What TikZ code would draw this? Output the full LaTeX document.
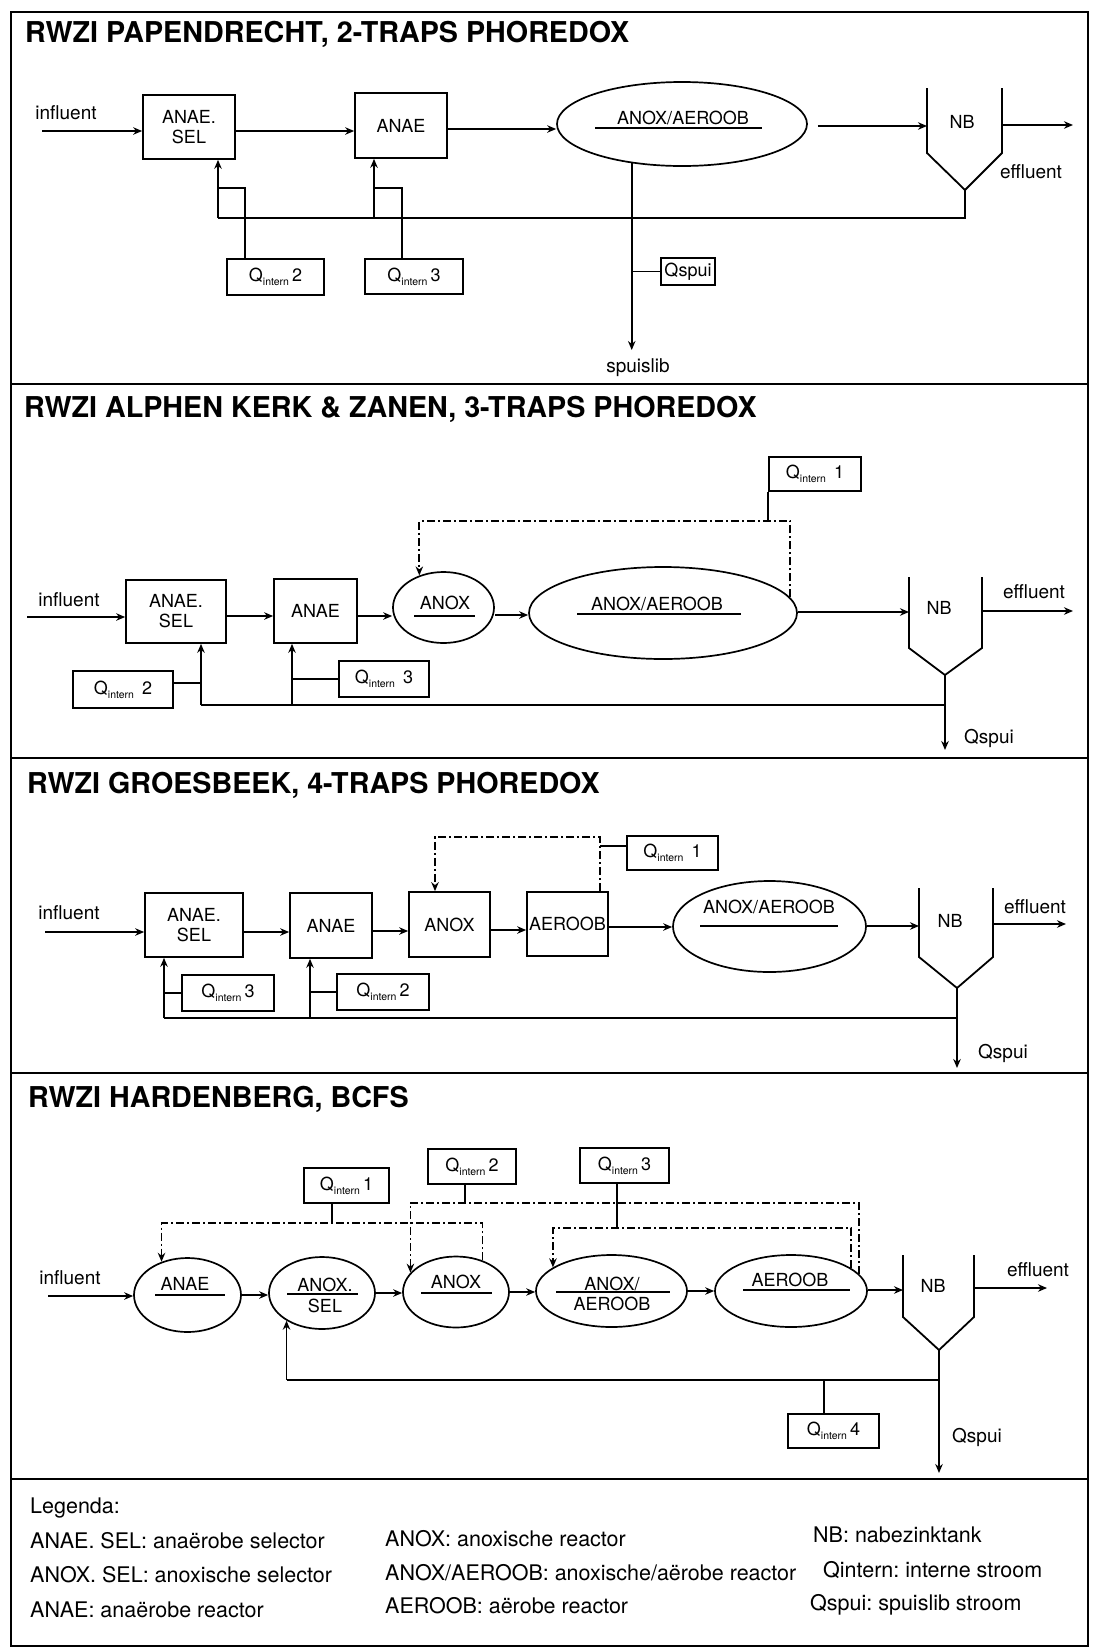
\documentclass[tikz,border=0pt]{standalone}
\usepackage{fontspec}
\setmainfont{TeX Gyre Heros}
\usetikzlibrary{shapes.geometric,arrows.meta}
\frenchspacing

\newcommand\lblfont{\fontsize{18}{20}\selectfont}
\newcommand\flowfont{\fontsize{19}{22}\selectfont}
\newcommand\legfont{\fontsize{21.5}{26}\selectfont}
\newcommand\ttlfont{\fontsize{28.7}{32}\selectfont\bfseries}
\newcommand\Qi[1]{Q\raisebox{-0.45ex}{\fontsize{10.5}{12}\selectfont intern}\,#1}

\begin{document}
\begin{tikzpicture}[x=1pt,y=-1pt,
 ln/.style={line width=1.8pt},
 arr/.style={ln,-{Stealth[length=9pt,width=7.5pt]}},
 dd/.style={line width=1.8pt,dash pattern=on 8pt off 3pt on 2pt off 3pt},
 ddarr/.style={dd,-{Stealth[length=9pt,width=7.5pt]}},
 box/.style={draw,line width=1.7pt,rectangle,inner sep=0pt,align=center,font=\lblfont},
 qbox/.style={draw,line width=1.7pt,rectangle,inner sep=0pt,font=\lblfont},
 ell/.style={draw,line width=1.7pt,ellipse,inner sep=0pt},
 lbl/.style={inner sep=0pt,font=\lblfont,align=center},
 flow/.style={inner sep=0pt,font=\flowfont},
 ttl/.style={inner sep=0pt,font=\ttlfont,anchor=base west},
 leg/.style={inner sep=0pt,font=\legfont,anchor=base west},
 ul/.style={line width=1.7pt},
 frame/.style={line width=2.4pt},
 nb/.style={line width=1.8pt}
]
\useasboundingbox (0,0) rectangle (1096,1650);
\fill[white] (0,0) rectangle (1096,1650);

% frame and dividers
\draw[frame] (11,12) rectangle (1088,1646);
\draw[frame] (11,384) -- (1088,384);
\draw[frame] (11,758) -- (1088,758);
\draw[frame] (11,1073) -- (1088,1073);
\draw[frame] (11,1479) -- (1088,1479);

%================ Section 1 ================
\node[ttl] (T1) at (25,42) {RWZI PAPENDRECHT, 2-TRAPS PHOREDOX};
\node[flow] (in1) at (66,113) {influent};
\coordinate (s1) at (42,131);
\node[box,minimum width=92pt,minimum height=64pt] (A1) at (189,127) {ANAE.\\SEL};
\node[box,minimum width=92pt,minimum height=65pt] (A2) at (401,125.5) {ANAE};
\node[ell,minimum width=250pt,minimum height=84pt] (A3) at (682,124) {};
\node[lbl] (A3t) at (683,118) {ANOX/AEROOB};
\draw[ul] (595,128) -- (762,128);
\draw[nb] (927,88) -- (927,153) -- (965,190) -- (1002,153) -- (1002,88);
\node[lbl] (A4) at (962,122) {NB};
\coordinate (A4in) at (927,126);
\coordinate (A4out) at (1002,125);
\coordinate (A4tip) at (965,190);
\coordinate (e1) at (1073,125);
\node[flow] (ef1) at (1031,172) {effluent};

\draw[arr] (s1) -- (A1.west |- s1);
\draw[arr] (A1.east |- 0,131) -- (A2.west |- 0,131);
\draw[arr] (A2.east |- 0,129) -- (A3.west |- 0,129);
\draw[arr,shorten <=10pt] (A3.east |- A4in) -- (A4in);
\draw[arr] (A4out) -- (e1);

\coordinate (j1) at (218,218);
\coordinate (j2) at (374,218);
\draw[ln] (A4tip) -- (965,218) -- (j1);
\draw[arr] (j1) -- (j1 |- A1.south);
\draw[arr] (j2) -- (j2 |- A2.south);
\node[qbox,minimum width=97pt,minimum height=36pt] (Q12) at (275.5,277) {\Qi{2}};
\draw[ln] (Q12.north -| 245,0) -- (245,188) -- (218,188);
\node[qbox,minimum width=98pt,minimum height=35pt] (Q13) at (414,276.5) {\Qi{3}};
\draw[ln] (Q13.north -| 402,0) -- (402,188) -- (374,188);

\coordinate (w1) at (633,350);
\draw[arr] (A3.218) -- (A3.218 |- w1);
\node[qbox,minimum width=54pt,minimum height=27pt] (QS1) at (688,271.5) {Qspui};
\draw[ln] (QS1.west) -- (QS1.west -| w1);
\node[flow] (sp1) at (638,368) {spuislib};

%================ Section 2 ================
\node[ttl] (T2) at (24,417) {RWZI ALPHEN KERK \& ZANEN, 3-TRAPS PHOREDOX};
\node[flow] (in2) at (69,600) {influent};
\coordinate (s2) at (27,617);
\node[box,minimum width=100pt,minimum height=63pt] (B1) at (176,611.5) {ANAE.\\SEL};
\node[box,minimum width=83pt,minimum height=64pt] (B2) at (315.5,611) {ANAE};
\node[ell,minimum width=101pt,minimum height=71pt] (B3) at (443.5,607.5) {};
\node[lbl] (B3t) at (445,603) {ANOX};
\draw[ul] (414,616) -- (475,616);
\node[ell,minimum width=268pt,minimum height=92pt] (B4) at (663,613) {};
\node[lbl] (B4t) at (657,604) {ANOX/AEROOB};
\draw[ul] (577,614) -- (741,614);
\draw[nb] (909,577) -- (909,648) -- (945,675) -- (982,648) -- (982,577);
\node[lbl] (B5) at (939,608) {NB};
\coordinate (B5in) at (909,612);
\coordinate (B5out) at (982,611);
\coordinate (B5tip) at (945,675);
\coordinate (e2) at (1073,611);
\node[flow] (ef2) at (1034,592) {effluent};

\draw[arr] (s2) -- (B1.west |- s2);
\draw[arr] (B1.east |- 0,616) -- (B2.west |- 0,616);
\draw[arr] (B2.east |- 0,616) -- (B3.west |- 0,616);
\draw[arr] (B3.east |- 0,615) -- (B4.west |- 0,615);
\draw[arr] (B4.east |- B5in) -- (B5in);
\draw[arr] (B5out) -- (e2);

\node[qbox,minimum width=92pt,minimum height=34pt] (QB1) at (815,474) {\Qi{~1}};
\draw[ln] (QB1.south west) -- (QB1.south west |- 0,521);
\draw[ddarr] (B4.7) -- (B4.7 |- 0,521) -- (B3.127 |- 0,521) -- (B3.127);

\coordinate (k1) at (201,705);
\coordinate (k2) at (292,705);
\draw[arr] (B5tip) -- (945,750);
\draw[ln] (945,705) -- (k1);
\draw[arr] (k1) -- (k1 |- B1.south);
\draw[arr] (k2) -- (k2 |- B2.south);
\node[qbox,minimum width=100pt,minimum height=37pt] (QB2) at (123,689.5) {\Qi{~2}};
\draw[ln] (QB2.east |- 0,683) -- (k1 |- 0,683);
\node[qbox,minimum width=90pt,minimum height=36pt] (QB3) at (384,679) {\Qi{~3}};
\draw[ln] (k2 |- QB3.west) -- (QB3.west);
\node[flow] (qs2) at (989,738) {Qspui};

%================ Section 3 ================
\node[ttl] (T3) at (27,793) {RWZI GROESBEEK, 4-TRAPS PHOREDOX};
\node[flow] (in3) at (69,913) {influent};
\coordinate (s3) at (45,932);
\node[box,minimum width=98pt,minimum height=64pt] (C1) at (194,925) {ANAE.\\SEL};
\node[box,minimum width=82pt,minimum height=65pt] (C2) at (331,925.5) {ANAE};
\node[box,minimum width=81pt,minimum height=65pt] (C3) at (449.5,924.5) {ANOX};
\node[box,minimum width=81pt,minimum height=64pt] (C4) at (567.5,924) {AEROOB};
\node[ell,minimum width=193pt,minimum height=91pt] (C5) at (769.5,926.5) {};
\node[lbl] (C5t) at (769,907) {ANOX/AEROOB};
\draw[ul] (700,926) -- (838,926);
\draw[nb] (919,888) -- (919,957) -- (957,988) -- (993,957) -- (993,888);
\node[lbl] (C6) at (950,921) {NB};
\coordinate (C6in) at (919,926);
\coordinate (C6out) at (993,924);
\coordinate (C6tip) at (957,988);
\coordinate (e3) at (1066,924);
\node[flow] (ef3) at (1035,907) {effluent};

\draw[arr] (s3) -- (C1.west |- s3);
\draw[arr] (C1.east |- 0,932) -- (C2.west |- 0,932);
\draw[arr] (C2.east |- 0,931) -- (C3.west |- 0,931);
\draw[arr] (C3.east |- 0,930) -- (C4.west |- 0,930);
\draw[arr] (C4.east |- 0,927) -- (C5.west |- 0,927);
\draw[arr] (C5.east |- C6in) -- (C6in);
\draw[arr] (C6out) -- (e3);

\coordinate (d3r) at (600,837);
\coordinate (d3l) at (435,837);
\draw[ddarr] (C4.north -| d3r) -- (d3r) -- (d3l) -- (d3l |- C3.north);
\node[qbox,minimum width=91pt,minimum height=34pt] (QC1) at (672.5,853) {\Qi{~1}};
\draw[ln] (QC1.west |- 0,846) -- (d3r |- 0,846);

\coordinate (m1) at (164,1018);
\coordinate (m2) at (310,1018);
\draw[arr] (C6tip) -- (957,1068);
\draw[ln] (957,1018) -- (m1);
\draw[arr] (m1) -- (m1 |- C1.south);
\draw[arr] (m2) -- (m2 |- C2.south);
\node[qbox,minimum width=92pt,minimum height=36pt] (QC3) at (228,993) {\Qi{3}};
\draw[ln] (m1 |- QC3.west) -- (QC3.west);
\node[qbox,minimum width=92pt,minimum height=36pt] (QC2) at (383,992) {\Qi{2}};
\draw[ln] (m2 |- QC2.west) -- (QC2.west);
\node[flow] (qs3) at (1003,1053) {Qspui};

%================ Section 4 ================
\node[ttl] (T4) at (28,1107) {RWZI HARDENBERG, BCFS};
\node[flow] (in4) at (70,1278) {influent};
\coordinate (s4) at (48,1296);
\node[ell,minimum width=107pt,minimum height=74pt] (D1) at (187.5,1295) {};
\node[lbl] (D1t) at (185,1284) {ANAE};
\draw[ul] (155,1295) -- (225,1295);
\node[ell,minimum width=106pt,minimum height=72pt] (D2) at (322,1293) {};
\node[lbl] (D2t) at (325,1285) {ANOX.};
\draw[ul] (287,1294) -- (358,1294);
\node[lbl] (D2s) at (325,1306) {SEL};
\node[ell,minimum width=106pt,minimum height=71pt] (D3) at (456,1292) {};
\node[lbl] (D3t) at (456,1282) {ANOX};
\draw[ul] (421,1293) -- (492,1293);
\node[ell,minimum width=151pt,minimum height=72pt] (D4) at (611.5,1291) {};
\node[lbl] (D4t) at (612,1284) {ANOX/};
\draw[ul] (556,1292) -- (670,1292);
\node[lbl] (D4s) at (612,1303.5) {AEROOB};
\node[ell,minimum width=152pt,minimum height=72pt] (D5) at (791,1291) {};
\node[lbl] (D5t) at (790,1280) {AEROOB};
\draw[ul] (743,1290) -- (850,1290);
\draw[nb] (903,1255) -- (903,1317) -- (939,1350) -- (974,1317) -- (974,1255);
\node[lbl] (D6) at (933,1286) {NB};
\coordinate (D6in) at (903,1290);
\coordinate (D6out) at (974,1288);
\coordinate (D6tip) at (939,1350);
\coordinate (e4) at (1047,1288);
\node[flow] (ef4) at (1038,1270) {effluent};

\draw[arr] (s4) -- (D1.west |- s4);
\draw[arr] (D1.east |- 0,1295) -- (D2.west |- 0,1295);
\draw[arr] (D2.east |- 0,1293) -- (D3.west |- 0,1293);
\draw[arr] (D3.east |- 0,1292) -- (D4.west |- 0,1292);
\draw[arr] (D4.east |- 0,1291) -- (D5.west |- 0,1291);
\draw[arr] (D5.east |- D6in) -- (D6in);
\draw[arr] (D6out) -- (e4);

\node[qbox,minimum width=85pt,minimum height=35pt] (QD1) at (346.5,1185.5) {\Qi{1}};
\draw[ln] (QD1.south -| 332,0) -- (332,1223);
\draw[ddarr] (D3.50) -- (D3.50 |- 0,1223) -- (D1.128 |- 0,1223) -- (D1.128);
\node[qbox,minimum width=88pt,minimum height=35pt] (QD2) at (472,1166.5) {\Qi{2}};
\draw[ln] (QD2.south -| 465,0) -- (465,1203);
\draw[ddarr] (D5.14) -- (D5.14 |- 0,1203) -- (D3.157 |- 0,1203) -- (D3.157);
\node[qbox,minimum width=89pt,minimum height=35pt] (QD3) at (624.5,1165.5) {\Qi{3}};
\draw[ln] (QD3.south -| 617,0) -- (617,1228);
\draw[ddarr] (D5.21) -- (D5.21 |- 0,1228) -- (D4.158 |- 0,1228) -- (D4.158);

\draw[arr] (D6tip) -- (939,1473);
\draw[ln] (939,1380) -- (D2.218 |- 0,1380);
\draw[arr] (D2.218 |- 0,1380) -- (D2.218);
\node[qbox,minimum width=91pt,minimum height=34pt] (QD4) at (833.5,1431) {\Qi{4}};
\draw[ln] (QD4.north -| 824,0) -- (824,1380);
\node[flow] (qs4) at (977,1437) {Qspui};

%================ Legend ================
\node[leg] (L0) at (30,1513) {Legenda:};
\node[leg] (L1) at (30,1548) {ANAE. SEL: anaërobe selector};
\node[leg] (L2) at (30,1582) {ANOX. SEL: anoxische selector};
\node[leg] (L3) at (30,1617) {ANAE: anaërobe reactor};
\node[leg] (L4) at (385,1546) {ANOX: anoxische reactor};
\node[leg] (L5) at (385,1580) {ANOX/AEROOB: anoxische/aërobe reactor};
\node[leg] (L6) at (385,1613) {AEROOB: aërobe reactor};
\node[leg] (L7) at (813,1542) {NB: nabezinktank};
\node[leg] (L8) at (823,1577) {Qintern: interne stroom};
\node[leg] (L9) at (810,1610) {Qspui: spuislib stroom};
\end{tikzpicture}
\end{document}
